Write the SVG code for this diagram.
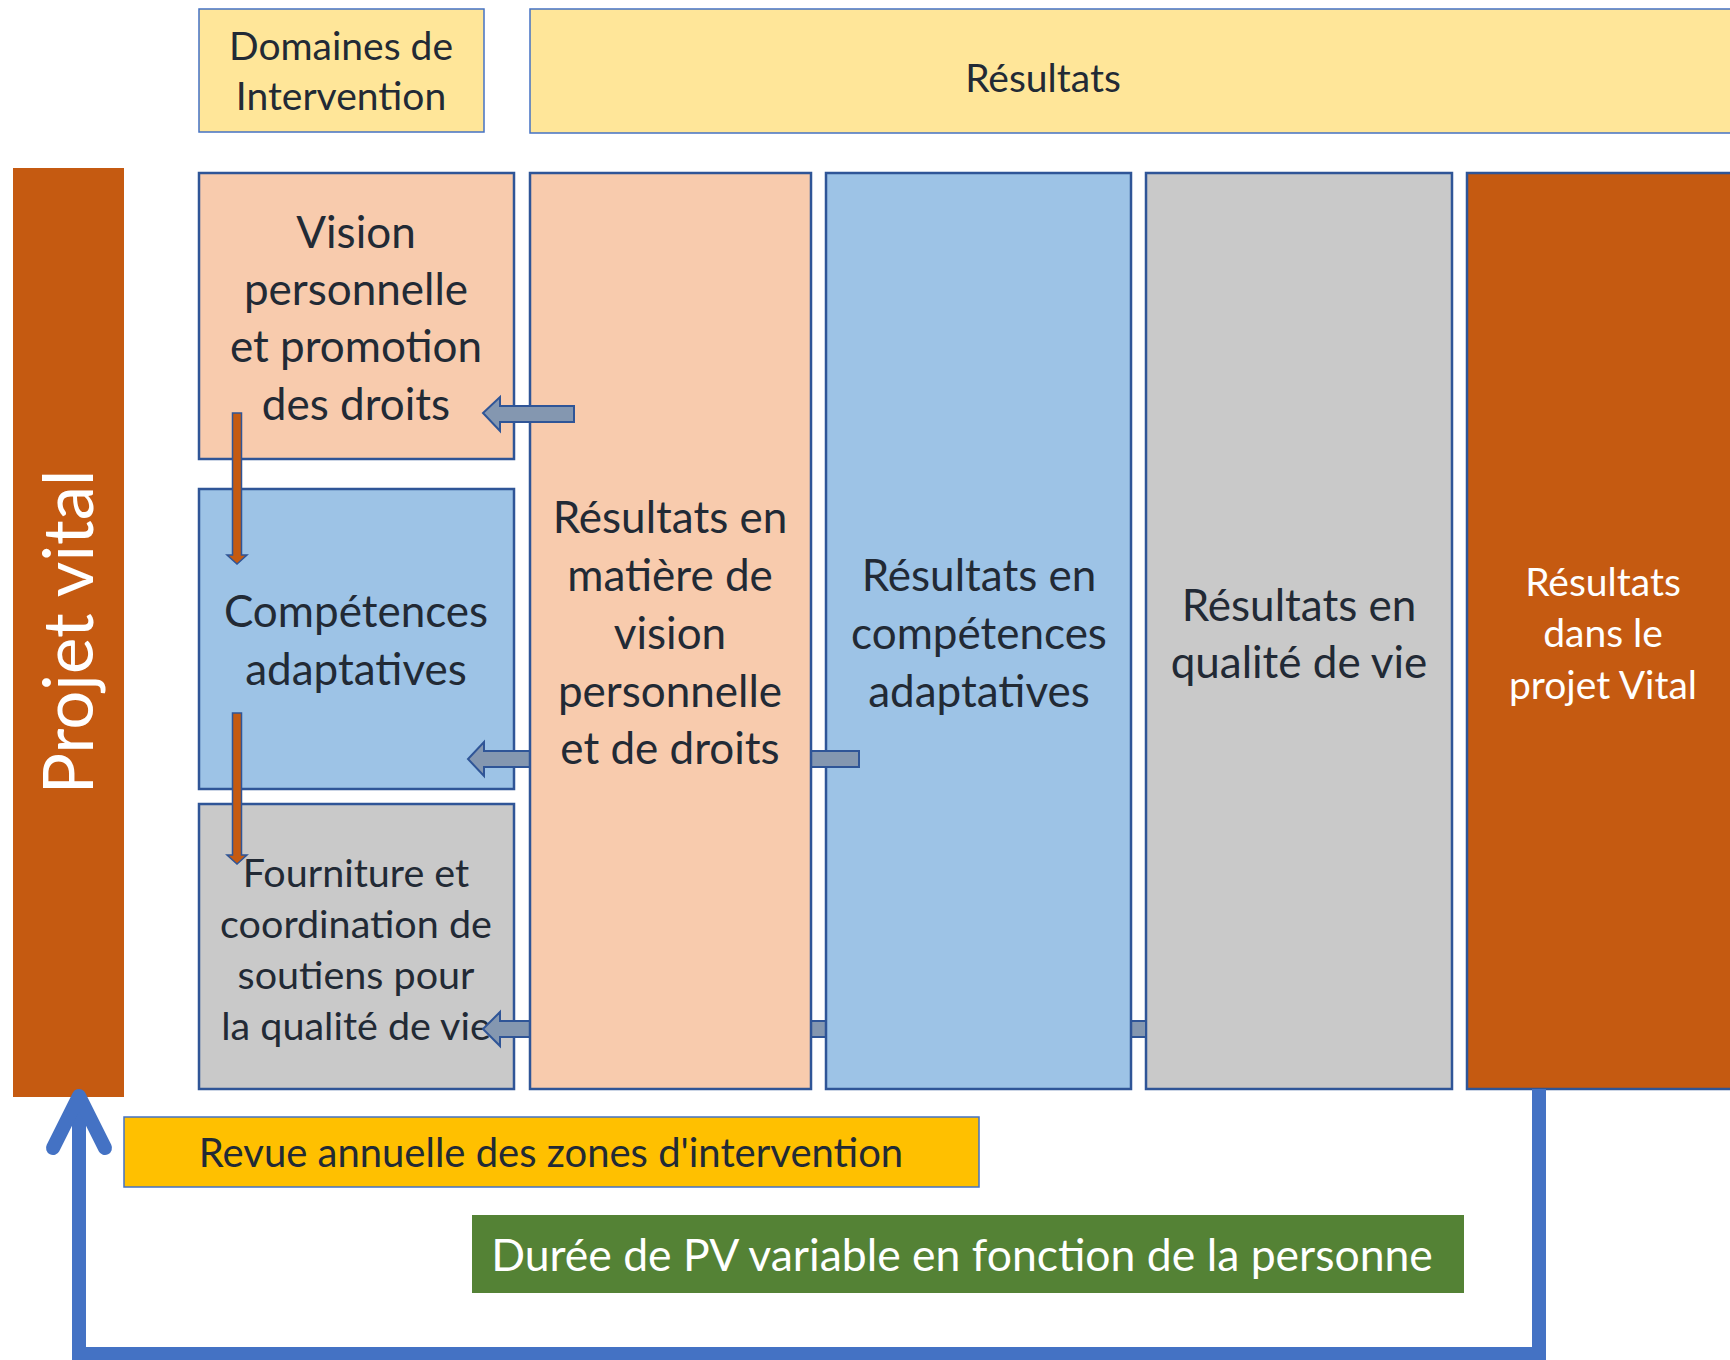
<svg xmlns="http://www.w3.org/2000/svg" width="1730" height="1360" viewBox="0 0 1730 1360">
<style>
.t{font-family:Lato,"Open Sans","Liberation Sans",sans-serif;fill:#222a35;text-anchor:middle}
.w{fill:#ffffff}
.big{font-size:44px}
.mid{font-size:39px}
.hdr{fill:#FFE699;stroke:#4472C4;stroke-width:1.5}
.box{stroke:#2F5597;stroke-width:2.5}
.peach{fill:#F8CBAD}
.blue{fill:#9DC3E6}
.gray{fill:#C9C9C9}
.orange{fill:#C55A11}
.barrow{fill:#8497B0;stroke:#2F5597;stroke-width:2}
.oarrow{fill:#C55A11;stroke:#2F5597;stroke-width:1.5}
.loop{fill:none;stroke:#4472C4;stroke-width:14}
</style>
<rect width="1730" height="1360" fill="#ffffff"/>

<g id="projet-vital">
<rect x="13" y="168" width="111" height="929" fill="#C55A11"/>
<text class="t w" font-size="69" transform="translate(93,632) rotate(-90)">Projet vital</text>
</g>

<g id="domaines">
<rect class="hdr" x="199" y="9" width="285" height="123"/>
<text class="t mid" x="341" y="60">Domaines de</text>
<text class="t mid" x="341" y="110">Intervention</text>
</g>

<g id="resultats-header">
<rect class="hdr" x="530" y="9" width="1210" height="124"/>
<text class="t mid" x="1043" y="92">Résultats</text>
</g>

<g id="vision">
<rect class="box peach" x="199" y="173" width="315" height="286"/>
<text class="t big" x="356" y="248">Vision</text>
<text class="t big" x="356" y="305">personnelle</text>
<text class="t big" x="356" y="362">et promotion</text>
<text class="t big" x="356" y="420">des droits</text>
</g>

<g id="competences">
<rect class="box blue" x="199" y="489" width="315" height="300"/>
<text class="t big" x="356" y="627">Compétences</text>
<text class="t big" x="356" y="685">adaptatives</text>
</g>

<g id="fourniture">
<rect class="box gray" x="199" y="804" width="315" height="285"/>
<text class="t" font-size="39.5" x="356" y="887">Fourniture et</text>
<text class="t" font-size="39.5" x="356" y="938">coordination de</text>
<text class="t" font-size="39.5" x="356" y="989">soutiens pour</text>
<text class="t" font-size="39.5" x="356" y="1040">la qualité de vie</text>
</g>

<g id="res-qualite">
<rect class="box gray" x="1146" y="173" width="306" height="916"/>
<text class="t big" x="1299" y="621">Résultats en</text>
<text class="t big" x="1299" y="678">qualité de vie</text>
</g>

<g id="connectors-back-1">
<path class="barrow" d="M1146,1021 L1146,1037 L500,1037 L500,1046 L483,1029 L500,1012 L500,1021 Z"/>
</g>

<g id="res-competences">
<rect class="box blue" x="826" y="173" width="305" height="916"/>
<text class="t big" x="979" y="591">Résultats en</text>
<text class="t big" x="979" y="649">compétences</text>
<text class="t big" x="979" y="707">adaptatives</text>
</g>

<g id="connectors-back-2">
<path class="barrow" d="M859,751 L859,767 L484,767 L484,776 L468,759 L484,742 L484,751 Z"/>
</g>

<g id="res-vision">
<rect class="box peach" x="530" y="173" width="281" height="916"/>
<text class="t big" x="670" y="533">Résultats en</text>
<text class="t big" x="670" y="591">matière de</text>
<text class="t big" x="670" y="649">vision</text>
<text class="t big" x="670" y="707">personnelle</text>
<text class="t big" x="670" y="764">et de droits</text>
</g>

<g id="res-projet">
<rect class="box orange" x="1467" y="173" width="280" height="916"/>
<text class="t mid w" x="1603" y="596">Résultats</text>
<text class="t mid w" x="1603" y="647">dans le</text>
<text class="t mid w" x="1603" y="699">projet Vital</text>
</g>

<g id="revue">
<rect x="124" y="1117" width="855" height="70" fill="#FFC000" stroke="#4472C4" stroke-width="1.5"/>
<text class="t" font-size="40" x="551" y="1167">Revue annuelle des zones d'intervention</text>
</g>

<g id="duree">
<rect x="472" y="1215" width="992" height="78" fill="#548235"/>
<text class="t w" font-size="44.5" x="962" y="1271">Durée de PV variable en fonction de la personne</text>
</g>

<g id="connectors">
<path class="barrow" d="M574,406 L574,422 L500,422 L500,431 L483,413 L500,397 L500,406 Z"/>
<path class="oarrow" d="M232.5,413 L241.5,413 L241.5,555 L247,555 L237,564 L227,555 L232.5,555 Z"/>
<path class="oarrow" d="M232.5,713 L241.5,713 L241.5,855 L247,855 L237,864 L227,855 L232.5,855 Z"/>
<path class="loop" d="M1539,1089 L1539,1354 L79,1354 L79,1096"/>
<path class="loop" d="M53,1148 L79,1096 L105,1148" stroke-linecap="round" stroke-linejoin="round"/>
</g>
</svg>
